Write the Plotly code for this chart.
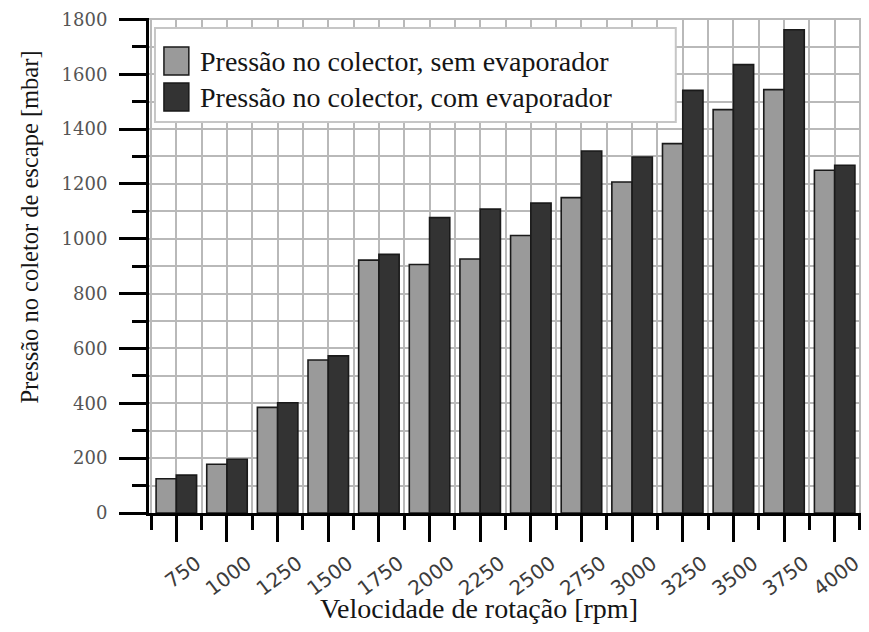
import plotly.graph_objects as go

# Engine speed (rpm) and exhaust manifold pressure (mbar)
rpm = [750, 1000, 1250, 1500, 1750, 2000, 2250, 2500, 2750, 3000, 3250, 3500, 3750, 4000]
sem_evaporador = [125, 178, 385, 558, 922, 906, 926, 1012, 1150, 1207, 1347, 1471, 1544, 1250]
com_evaporador = [138, 196, 402, 573, 943, 1077, 1108, 1130, 1320, 1298, 1541, 1635, 1762, 1268]
rpm_labels = [str(v) for v in rpm]

series_names = ["Pressão no colector, sem evaporador",
                "Pressão no colector, com evaporador"]
series_colors = ["#9a9a9a", "#333333"]

x_title = "Velocidade de rotação [rpm]"
y_title = "Pressão no coletor de escape [mbar]"

W, H = 869, 632
M = dict(l=149, r=5, t=18, b=119)
PW = W - M["l"] - M["r"]
PH = H - M["t"] - M["b"]


def fx(px):
    """pixel column -> paper x"""
    return (px - M["l"]) / PW


def fy(py):
    """pixel row -> paper y"""
    return (H - M["b"] - py) / PH


GRID = "#b9b9b9"
EDGE = "#1a1a1a"

fig = go.Figure()
for name, vals, col in zip(series_names, [sem_evaporador, com_evaporador], series_colors):
    fig.add_trace(go.Bar(
        x=rpm, y=vals, name=name, showlegend=False,
        marker=dict(color=col, line=dict(color=EDGE, width=1.6)),
    ))

# legend panel drawn over the grid
shapes = [dict(type="rect", xref="paper", yref="paper",
               x0=fx(155), x1=fx(678), y0=fy(122), y1=fy(28),
               fillcolor="white", line=dict(color="#c6c6c6", width=2), layer="above")]
annotations = []
rows = [(47, 75), (83, 111)]
for (top, bot), name, col in zip(rows, series_names, series_colors):
    shapes.append(dict(type="rect", xref="paper", yref="paper",
                       x0=fx(164), x1=fx(189), y0=fy(bot), y1=fy(top),
                       fillcolor=col, line=dict(color=EDGE, width=1.5), layer="above"))
    annotations.append(dict(xref="paper", yref="paper", x=fx(198), y=fy((top + bot) / 2),
                            xanchor="left", yanchor="middle", showarrow=False, text=name,
                            font=dict(family="Liberation Serif", size=28, color="#151515")))

annotations.append(dict(xref="paper", yref="paper", x=fx(480), y=fy(608),
                        xanchor="center", yanchor="middle", showarrow=False, text=x_title,
                        font=dict(family="Liberation Serif", size=28, color="#151515")))
annotations.append(dict(xref="paper", yref="paper", x=fx(28), y=fy(227),
                        xanchor="center", yanchor="middle", showarrow=False, text=y_title,
                        textangle=-90,
                        font=dict(family="Liberation Serif", size=24.5, color="#151515")))

fig.update_layout(
    width=W, height=H, margin=M,
    paper_bgcolor="white", plot_bgcolor="white",
    barmode="group", bargap=0.2, bargroupgap=0,
    shapes=shapes, annotations=annotations,
    showlegend=False,
)

fig.update_xaxes(
    type="linear", range=[615, 4130],
    tickmode="array", tickvals=rpm, ticktext=rpm_labels,
    ticks="outside", ticklen=26, tickwidth=3, tickcolor="black",
    showline=True, linewidth=3, linecolor="black", zeroline=False,
    showgrid=True, gridcolor=GRID, gridwidth=2,
    minor=dict(tick0=625, dtick=250, ticks="outside", ticklen=14, tickwidth=3,
               tickcolor="black", showgrid=True, gridcolor=GRID, gridwidth=2),
    tickangle=-37, ticklabelshift=20, ticklabelstandoff=2,
    tickfont=dict(family="DejaVu Sans", size=20, color="#3c3c3c"),
)

fig.update_yaxes(
    range=[0, 1805], tick0=0, dtick=200,
    ticks="outside", ticklen=27, tickwidth=3, tickcolor="black",
    showline=True, linewidth=3, linecolor="black", zeroline=False,
    showgrid=True, gridcolor=GRID, gridwidth=2,
    minor=dict(dtick=100, ticks="outside", ticklen=14, tickwidth=3,
               tickcolor="black", showgrid=True, gridcolor=GRID, gridwidth=2),
    ticklabelstandoff=8,
    tickfont=dict(family="DejaVu Serif", size=18, color="#555555"),
)

fig.write_html("out.html")
